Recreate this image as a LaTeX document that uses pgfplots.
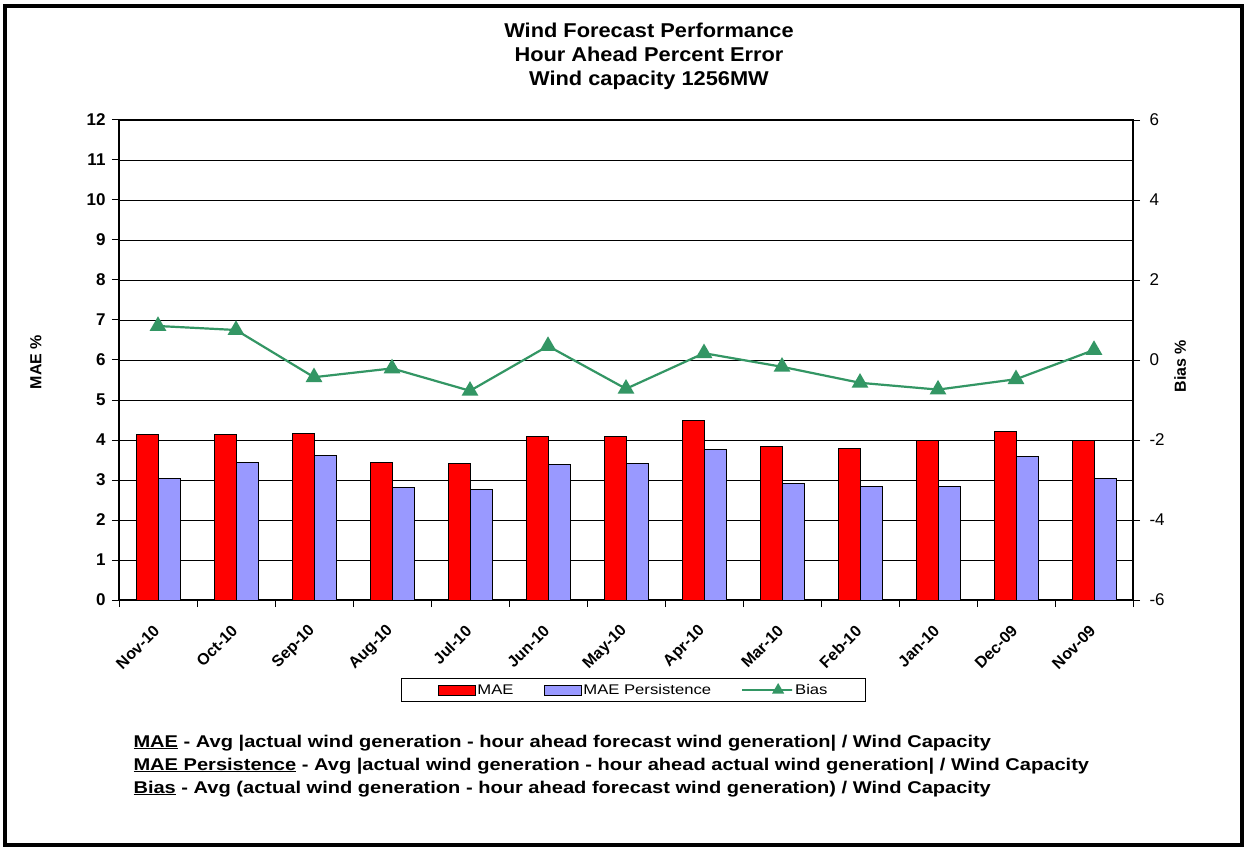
\documentclass[border=0pt]{standalone}
\usepackage{fontspec}
\setmainfont{Liberation Sans}
\newfontfamily\titlefont[FakeStretch=1.09]{Liberation Sans}
\newfontfamily\legfont[FakeStretch=1.19]{Liberation Sans}
\newfontfamily\notefont[FakeStretch=1.18]{Liberation Sans}
\usepackage{pgfplots}
\pgfplotsset{compat=1.18}
\definecolor{maered}{RGB}{255,0,0}
\definecolor{persblue}{RGB}{153,153,255}
\definecolor{biasgreen}{RGB}{51,150,100}

\begin{document}
\begin{tikzpicture}
\useasboundingbox (0pt,0pt) rectangle (1246pt,847pt);
\fill[white] (0pt,0pt) rectangle (1246pt,847pt);
\draw[line width=4pt] (5pt,2pt) rectangle (1242pt,841pt);

\node[align=center, font=\titlefont\fontsize{20}{24}\selectfont\bfseries] at (649pt,791pt)
  {Wind Forecast Performance\\Hour Ahead Percent Error\\Wind capacity 1256MW};

\begin{axis}[
  at={(119pt,247pt)}, anchor=south west,
  scale only axis, width=1014pt, height=480pt,
  xmin=-0.5, xmax=12.5, ymin=0, ymax=12,
  ytick={0,...,12},
  xtick={0,...,12},
  xticklabels={Nov-10,Oct-10,Sep-10,Aug-10,Jul-10,Jun-10,May-10,Apr-10,Mar-10,Feb-10,Jan-10,Dec-09,Nov-09},
  minor xtick={-0.5,0.5,...,12.5},
  major x tick style={draw=none},
  xtick pos=bottom, ytick pos=left,
  tick align=outside, major tick length=7pt, minor tick length=7pt,
  tick style={black, line width=1pt},
  /pgf/number format/assume math mode=true,
  yticklabel style={font=\fontsize{17}{17}\selectfont\bfseries, xshift=-3pt},
  xticklabel style={font=\fontsize{16}{16}\selectfont\bfseries, xshift=1pt, yshift=-19pt, rotate=45, anchor=east},
  ymajorgrids, grid style={black, line width=0.9pt},
  axis line style={black, line width=1.2pt},
  ylabel={MAE \%},
  ylabel style={font=\fontsize{16}{16}\selectfont\bfseries, at={(axis description cs:-0.0819,0.496)}, anchor=center},
  ybar=0pt, bar width=22pt,
  legend columns=3,
  legend style={at={(0.5075,-0.1875)}, anchor=center, draw=black, line width=0.8pt,
    font=\legfont\fontsize{14}{14}\selectfont, inner xsep=36pt, inner ysep=4pt,
    /tikz/every even column/.append style={column sep=28pt}},
  legend cell align=left,
]
\addplot[fill=maered, draw=black, line width=0.8pt,
  legend image code/.code={\draw[fill=maered,draw=black,line width=0.8pt] (0pt,-5pt) rectangle (37pt,5pt);}]
  coordinates {(0,4.14) (1,4.14) (2,4.17) (3,3.45) (4,3.42) (5,4.08) (6,4.10) (7,4.48) (8,3.83) (9,3.80) (10,3.99) (11,4.21) (12,3.98)};
\addlegendentry{MAE}
\addplot[fill=persblue, draw=black, line width=0.8pt,
  legend image code/.code={\draw[fill=persblue,draw=black,line width=0.8pt] (0pt,-5pt) rectangle (37pt,5pt);}]
  coordinates {(0,3.04) (1,3.45) (2,3.62) (3,2.81) (4,2.77) (5,3.39) (6,3.42) (7,3.76) (8,2.91) (9,2.83) (10,2.83) (11,3.60) (12,3.04)};
\addlegendentry{MAE Persistence}
\addlegendimage{legend image code/.code={\draw[biasgreen,line width=2pt,mark=triangle*,mark size=5pt,mark repeat=2,mark phase=2] plot coordinates {(0pt,0pt) (14pt,0pt) (28pt,0pt)};}}
\addlegendentry{Bias}
\end{axis}

\begin{axis}[
  at={(119pt,247pt)}, anchor=south west,
  scale only axis, width=1014pt, height=480pt,
  xmin=-0.5, xmax=12.5, ymin=-6, ymax=6,
  ytick={-6,-4,...,6},
  axis x line=none, axis y line*=right,
  axis line style={black, line width=1.2pt, -},
  tick align=outside, major tick length=7pt,
  tick style={black, line width=1pt},
  /pgf/number format/assume math mode=true,
  yticklabel style={font=\fontsize{17}{17}\selectfont, xshift=6pt},
  ylabel={Bias \%},
  ylabel style={font=\fontsize{16}{16}\selectfont\bfseries, at={(axis description cs:1.0464,0.4875)}, anchor=center},
  clip=false,
]
\addplot[biasgreen, line width=2.2pt, mark=triangle*, mark size=7.5pt, mark options={solid}]
  coordinates {(0,0.85) (1,0.75) (2,-0.43) (3,-0.21) (4,-0.77) (5,0.35) (6,-0.72) (7,0.17) (8,-0.17) (9,-0.57) (10,-0.74) (11,-0.48) (12,0.25)};
\end{axis}

\node[anchor=base west, font=\notefont\fontsize{17}{17}\selectfont\bfseries] at (130pt,100pt)
  {\underline{MAE} - Avg |actual wind generation - hour ahead forecast wind generation| / Wind Capacity};
\node[anchor=base west, font=\notefont\fontsize{17}{17}\selectfont\bfseries] at (130pt,77pt)
  {\underline{MAE Persistence} - Avg |actual wind generation - hour ahead actual wind generation| / Wind Capacity};
\node[anchor=base west, font=\notefont\fontsize{17}{17}\selectfont\bfseries] at (130pt,54pt)
  {\underline{Bias} - Avg (actual wind generation - hour ahead forecast wind generation) / Wind Capacity};
\end{tikzpicture}
\end{document}
